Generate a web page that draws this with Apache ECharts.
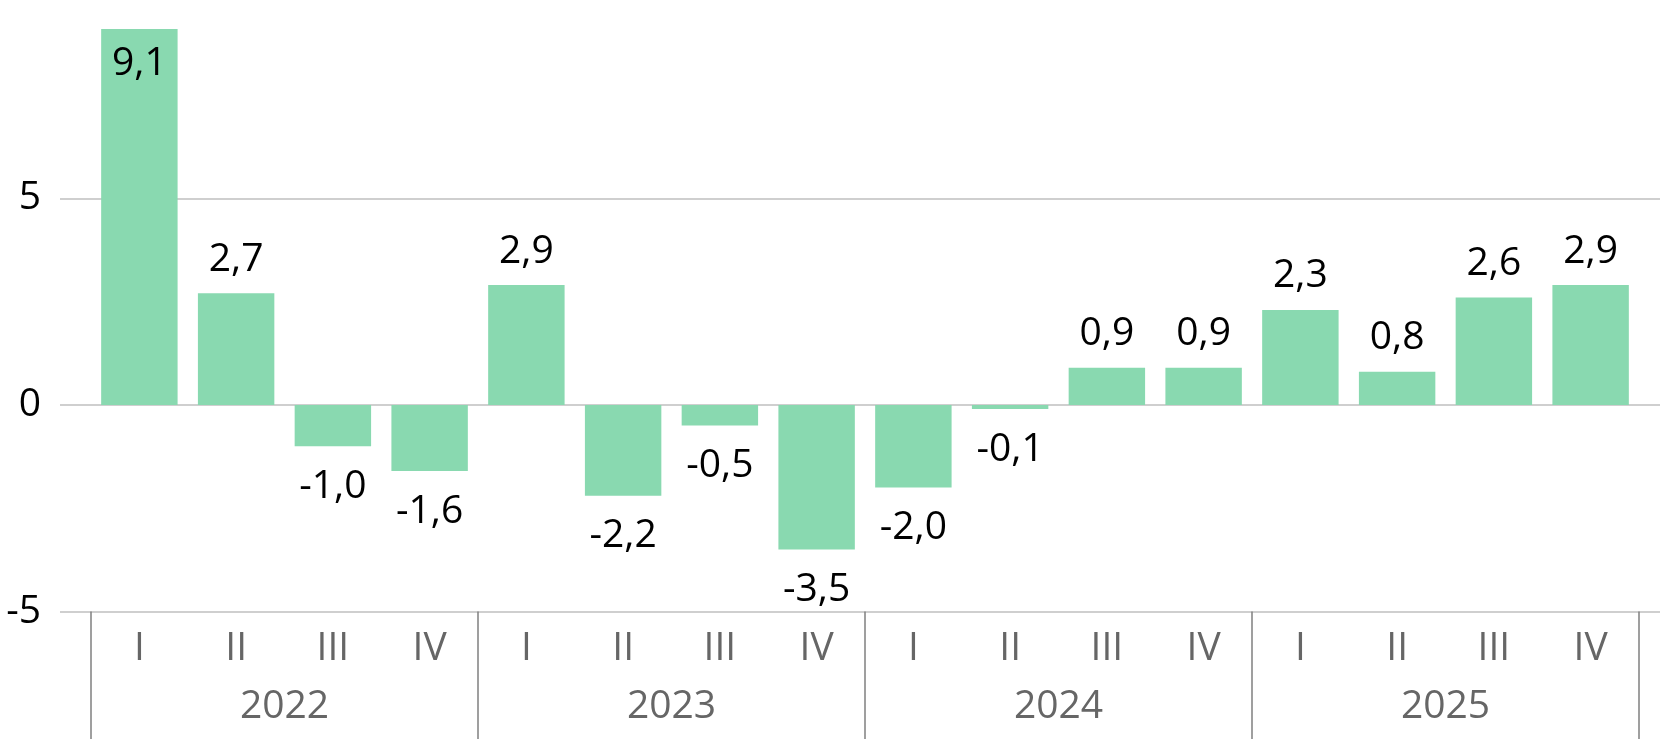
<!DOCTYPE html>
<html>
<head>
<meta charset="utf-8">
<script src="https://cdn.jsdelivr.net/npm/echarts@6/dist/echarts.min.js"></script>
<style>
  html, body { margin: 0; padding: 0; background: #fff; }
  #chart { width: 1660px; height: 739px; }
</style>
</head>
<body>
<div id="chart"></div>
<script>
// quarters and years (two-level category axis)
const quarters = ['I', 'II', 'III', 'IV', 'I', 'II', 'III', 'IV', 'I', 'II', 'III', 'IV', 'I', 'II', 'III', 'IV']
const years = ['2022', '2023', '2024', '2025']
const values = [9.1, 2.7, -1.0, -1.6, 2.9, -2.2, -0.5, -3.5, -2.0, -0.1, 0.9, 0.9, 2.3, 0.8, 2.6, 2.9]

const fontFamily = '"Open Sans", "Noto Sans", sans-serif'
const fontSize = 39
const fmt = v => v.toFixed(1).replace('.', ',')

const myChart = echarts.init(document.getElementById('chart'))

// label placement: tallest bar inside, others above / below
const barData = values.map((v, i) => {
  let label = v >= 0 ? { position: 'top', distance: 14 } : { position: 'bottom', distance: 21 }
  if (i === 0) label = { position: 'insideTop', distance: 15 }
  return { value: v, label: label }
})

const yMin = -5
const yMax = 9.8   // chart is cut off just under 10

const option = {
  animation: false,
  textStyle: { fontFamily: fontFamily },
  grid: [
    // grid for the gridlines + y labels (wider than the bars)
    { left: 60, right: 0, top: 0, bottom: 127.5 },
    // grid for the bars
    { left: 91, right: 21, top: 0, bottom: 127.5 }
  ],
  xAxis: [
    { gridIndex: 0, type: 'category', data: [''], show: false },
    {
      gridIndex: 1,
      type: 'category',
      data: quarters,
      axisLine: { show: false },
      axisTick: { show: false },
      axisLabel: { color: '#666666', fontSize: fontSize, fontFamily: fontFamily, margin: 18, interval: 0 }
    },
    {
      gridIndex: 1,
      type: 'category',
      position: 'bottom',
      data: years,
      axisLine: { show: false },
      axisTick: { show: true, length: 130, lineStyle: { color: '#808080', width: 1.5 } },
      axisLabel: { color: '#666666', fontSize: fontSize, fontFamily: fontFamily, margin: 76, interval: 0 }
    }
  ],
  yAxis: [
    {
      gridIndex: 0,
      type: 'value',
      min: yMin,
      max: yMax,
      interval: 5,
      axisLine: { show: false },
      axisTick: { show: false },
      splitLine: { showMaxLine: false, lineStyle: { color: '#bfbfbf', width: 1.5 } },
      axisLabel: { showMaxLabel: false, color: '#000', fontSize: fontSize, fontFamily: fontFamily, margin: 19 }
    },
    { gridIndex: 1, type: 'value', min: yMin, max: yMax, interval: 5, show: false }
  ],
  series: [
    {
      type: 'bar',
      xAxisIndex: 1,
      yAxisIndex: 1,
      data: barData,
      barCategoryGap: '21%',
      itemStyle: { color: '#89d9b0' },
      label: {
        show: true,
        color: '#000',
        fontSize: fontSize,
        fontFamily: fontFamily,
        formatter: p => fmt(p.value)
      }
    }
  ]
}
myChart.setOption(option)
</script>
</body>
</html>
